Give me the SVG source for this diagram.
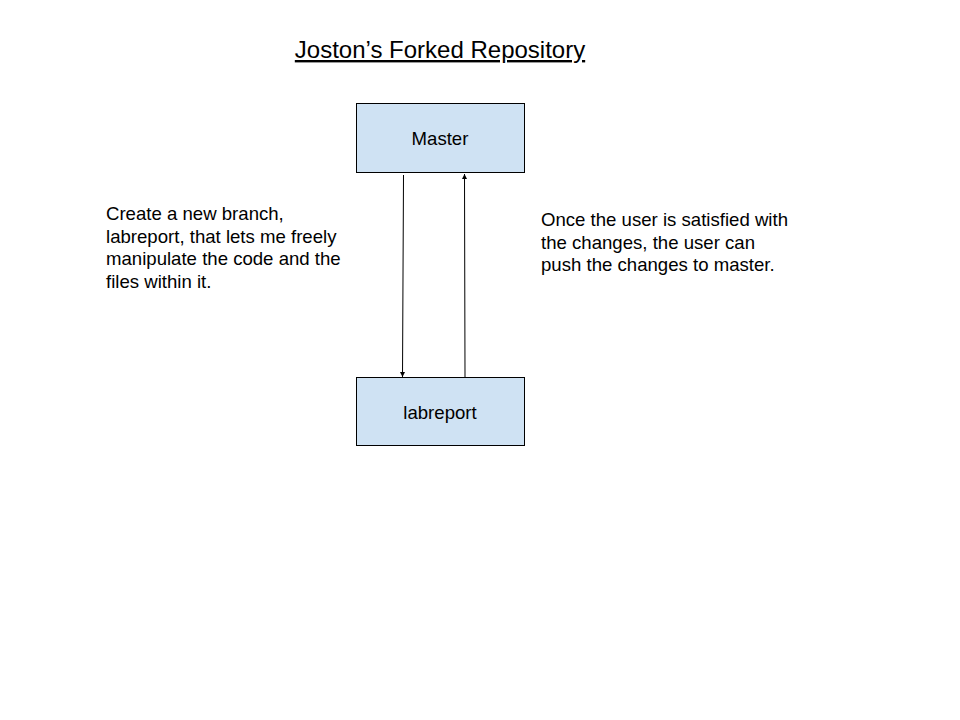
<svg xmlns="http://www.w3.org/2000/svg" width="960" height="720" viewBox="0 0 960 720">
<style>
text{font-family:"Liberation Sans",Arial,sans-serif;fill:#000}
.box{fill:#cfe2f3;stroke:#000;stroke-width:1}
.lbl{font-size:18.6px;text-anchor:middle}
.note{font-size:18.6px}
.conn{stroke:#000;stroke-width:1;fill:none}
</style>
<defs>
<marker id="ah" viewBox="0 0 10 10" refX="10" refY="5" markerWidth="5" markerHeight="5" orient="auto-start-reverse" markerUnits="userSpaceOnUse"><path d="M0,0 L10,5 L0,10 z" fill="#000"/></marker>
</defs>
<rect width="960" height="720" fill="#fff"/>
<text x="440" y="58" font-size="24" text-anchor="middle" text-decoration="underline">Joston’s Forked Repository</text>
<g id="master"><rect class="box" x="356.5" y="103.5" width="168" height="69"/><text class="lbl" x="440" y="145">Master</text></g>
<g id="labreport"><rect class="box" x="356.5" y="377.5" width="168" height="68"/><text class="lbl" x="440" y="419">labreport</text></g>
<g id="connectors">
<line class="conn" x1="403.5" y1="175" x2="402.5" y2="377" marker-end="url(#ah)"/>
<line class="conn" x1="465" y1="377" x2="464.5" y2="174" marker-end="url(#ah)"/>
</g>
<g id="note-left"><text class="note" x="106" y="220"><tspan x="106">Create a new branch,</tspan><tspan x="106" dy="22.7">labreport, that lets me freely</tspan><tspan x="106" dy="22.7">manipulate the code and the</tspan><tspan x="106" dy="22.7">files within it.</tspan></text></g>
<g id="note-right"><text class="note" x="541" y="226"><tspan x="541">Once the user is satisfied with</tspan><tspan x="541" dy="22.7">the changes, the user can</tspan><tspan x="541" dy="22.7">push the changes to master.</tspan></text></g>
</svg>
